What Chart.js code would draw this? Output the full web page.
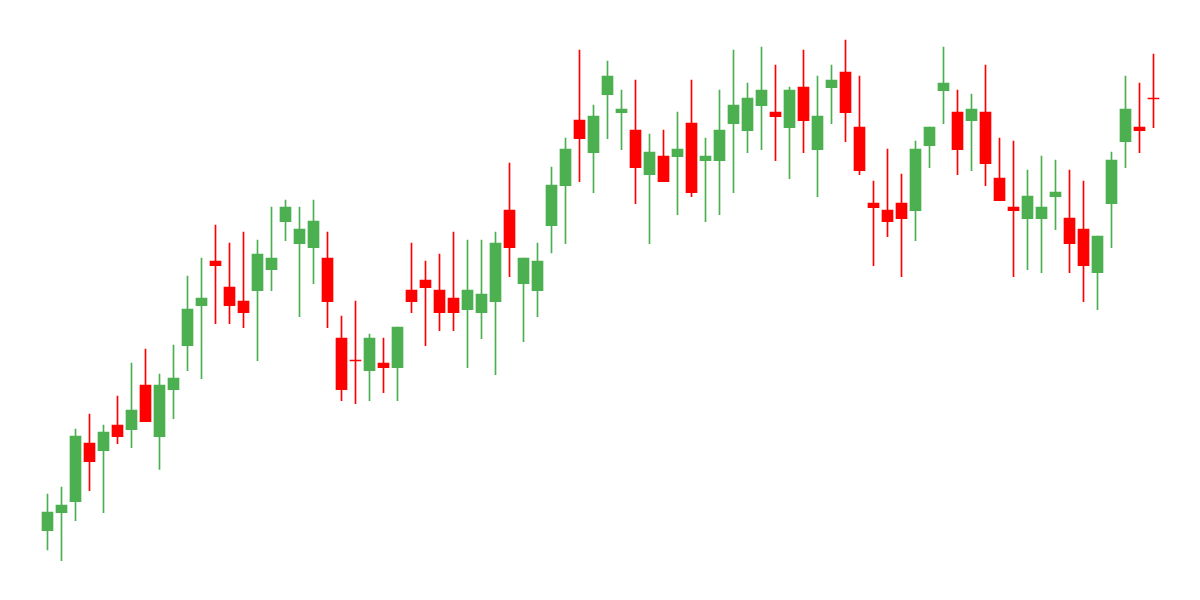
<!DOCTYPE html>
<html>
<head>
<meta charset="utf-8">
<script src="https://cdn.jsdelivr.net/npm/chart.js@4/dist/chart.umd.min.js"></script>
<style>
  body { margin: 0; background: #fff; }
</style>
</head>
<body>
<canvas id="grafico" width="1200" height="600"></canvas>
<script>
//candles, one entry per session
var giorni = [];
for (var i = 1; i <= 80; i++) giorni.push("G" + i);

var open = [69.3,87.3,98.3,157,149.3,175,170.3,215,163.3,210.3,
	254.3,294.3,339,313,299,309.3,330.3,378.3,356.3,352.3,
	342,262,240,229.3,237,232.3,310,320,310,302,
	290.3,287.3,298.3,390,316.3,309.3,374.3,414.3,480,447.3,
	505.3,487.3,470,425.3,444,443.3,477,439.3,439.3,476.3,
	469.3,494.3,488,472.3,513,450.3,512.3,528,473,397,
	390,397,389.3,454.3,509.3,488,479.3,488,422,393,
	381.3,381.3,403.3,382,371,327.3,396.3,458.3,473,502];
var high = [106,113,171,186,175,204,237,251,226,255,
	324,342,375,357,368,360,393,400,393,400,
	368,284,299,266,262,273,357,339,346,368,
	360,360,368,437,342,357,433,462,550,495,
	539,510,520,466,470,488,520,462,510,550,
	517,553,535,513,550,524,535,560,524,419,
	451,426,459,473,553,510,506,535,462,459,
	430,444,440,430,419,364,448,524,517,546];
var low = [50,39.3,79.3,109.3,87.3,156.3,152.3,178.3,130.7,181.3,
	229.3,221.3,276.3,276.3,272.3,239.3,309.3,359.3,283.3,316.3,
	272.3,199.3,196.3,199.3,207.3,199.3,287.3,254.3,269.3,269.3,
	232.3,261.3,225.3,323.3,258.3,283.3,347,356.3,418.3,407.3,
	461.3,450.3,396.3,356.3,418.3,385.3,403.3,378.3,385.3,407.3,
	447.3,450.3,439.3,421.3,447.3,403.3,476.3,458.3,425.3,334.3,
	363.3,323.3,359.3,432.3,476.3,425.3,429.3,414.3,399.3,323.3,
	330.3,327.3,370.3,327.3,298.3,290.3,352.3,432.3,447.3,472.3];
var close = [88,95,164,138.3,168,163.3,190,178.3,215,222,
	291,302,334.3,294.3,287.3,346,342,393,371,379,
	298.3,210.3,239,262,232.3,273,298.3,312.3,287.3,287.3,
	310,306,357,352.3,342,339,415,451,461.3,484,
	524,491,432.3,448,418.3,451,407.3,444,470,495,
	502,510,483.3,510,479.3,484,520,487.3,429.3,392.3,
	378.3,381.3,451,473,517,450.3,491,436.3,399.3,389.3,
	404,393,408,356.3,334.3,364,440,491,469.3,501];

var verde = "#4caf50";
var rosso = "#ff0000";

function colore(ctx) {
	var i = ctx.dataIndex;
	return close[i] >= open[i] ? verde : rosso;
}

var corpi = giorni.map((g, i) => [open[i], close[i]]);
var ombre = giorni.map((g, i) => [low[i], high[i]]);

new Chart(document.getElementById("grafico"), {
	type: 'bar',
	data: {
		labels: giorni,
		datasets: [{
			data: corpi,
			backgroundColor: colore,
			barThickness: 11,
			minBarLength: 1,
			grouped: false,
			order: 1
		}, {
			data: ombre,
			backgroundColor: colore,
			barThickness: 1,
			grouped: false,
			order: 2
		}]
	},
	options: {
		responsive: false,
		animation: false,
		layout: { padding: { left: 40.5, right: 39.5, top: 0, bottom: 0 } },
		plugins: { legend: { display: false }, tooltip: { enabled: false } },
		scales: {
			x: { display: false, offset: true },
			y: { display: false, min: 0, max: 600 }
		}
	}
});
</script>
</body>
</html>
